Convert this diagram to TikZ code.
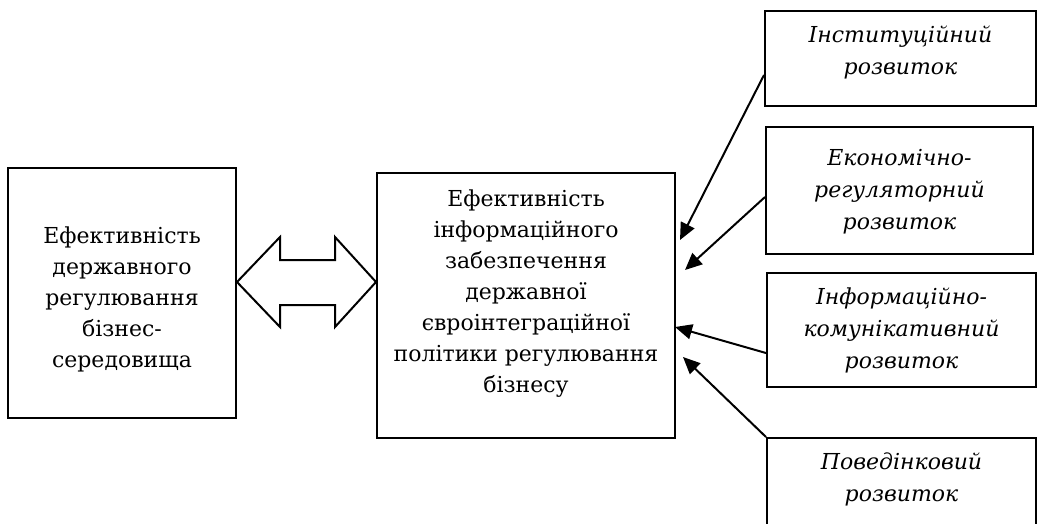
\documentclass[tikz,border=0pt]{standalone}
\usepackage{fontspec}
\setmainfont{DejaVu Serif}
\usetikzlibrary{arrows.meta}
\begin{document}
\begin{tikzpicture}[x=1pt,y=-1pt,
  box/.style={draw,line width=2pt,inner sep=0pt},
  txt/.style={anchor=north,inner sep=0pt,align=center,font=\fontsize{22}{31}\selectfont},
  itxt/.style={txt,font=\fontsize{22}{32}\selectfont\itshape},
  conn/.style={line width=2pt,-{Triangle[length=17pt,width=15pt]}}]
\useasboundingbox (0,0) rectangle (1038,523);
\clip (0,0) rectangle (1038,523);
% boxes
\node[box,minimum width=228pt,minimum height=250pt] (L) at (122,293) {};
\node[box,minimum width=298pt,minimum height=265pt] (C) at (526,305.5) {};
\node[box,minimum width=271pt,minimum height=95pt] (B1) at (900.5,58.5) {};
\node[box,minimum width=267pt,minimum height=127pt] (B2) at (899.5,190.5) {};
\node[box,minimum width=269pt,minimum height=114pt] (B3) at (901.5,330) {};
\node[box,minimum width=269pt,minimum height=122pt] (B4) at (901.5,499) {};
% texts
\node[txt] (tL) at (122,227) {Ефективність\\державного\\регулювання\\бізнес-\\середовища};
\node[txt] (tC) at (526,190) {Ефективність\\інформаційного\\забезпечення\\державної\\євроінтеграційної\\політики регулювання\\бізнесу};
\node[itxt] (t1) at (900.5,26) {Інституційний\\розвиток};
\node[itxt] (t2) at (899.5,149) {Економічно-\\регуляторний\\розвиток};
\node[itxt] (t3) at (901.5,288) {Інформаційно-\\комунікативний\\розвиток};
\node[itxt] (t4) at (901.5,453) {Поведінковий\\розвиток};
% double arrow between L and C
\draw[line width=2pt,line join=miter] (L.east |- 0,282) -- (280,237) -- (280,260) -- (335,260) -- (335,237)
  -- (C.west |- 0,282) -- (335,327) -- (335,305) -- (280,305) -- (280,327) -- cycle;
% arrows
\coordinate (e1) at (680,240);
\coordinate (e2) at (685,270);
\coordinate (e3) at (675,327);
\coordinate (e4) at (683,357);
\draw[conn] ([yshift=-16.5pt]B1.west) -- (e1);
\draw[conn] ([yshift=-6.5pt]B2.west) -- (e2);
\draw[conn] ([yshift=-23pt]B3.west) -- (e3);
\draw[conn] (B4.north west) -- (e4);
\end{tikzpicture}
\end{document}
